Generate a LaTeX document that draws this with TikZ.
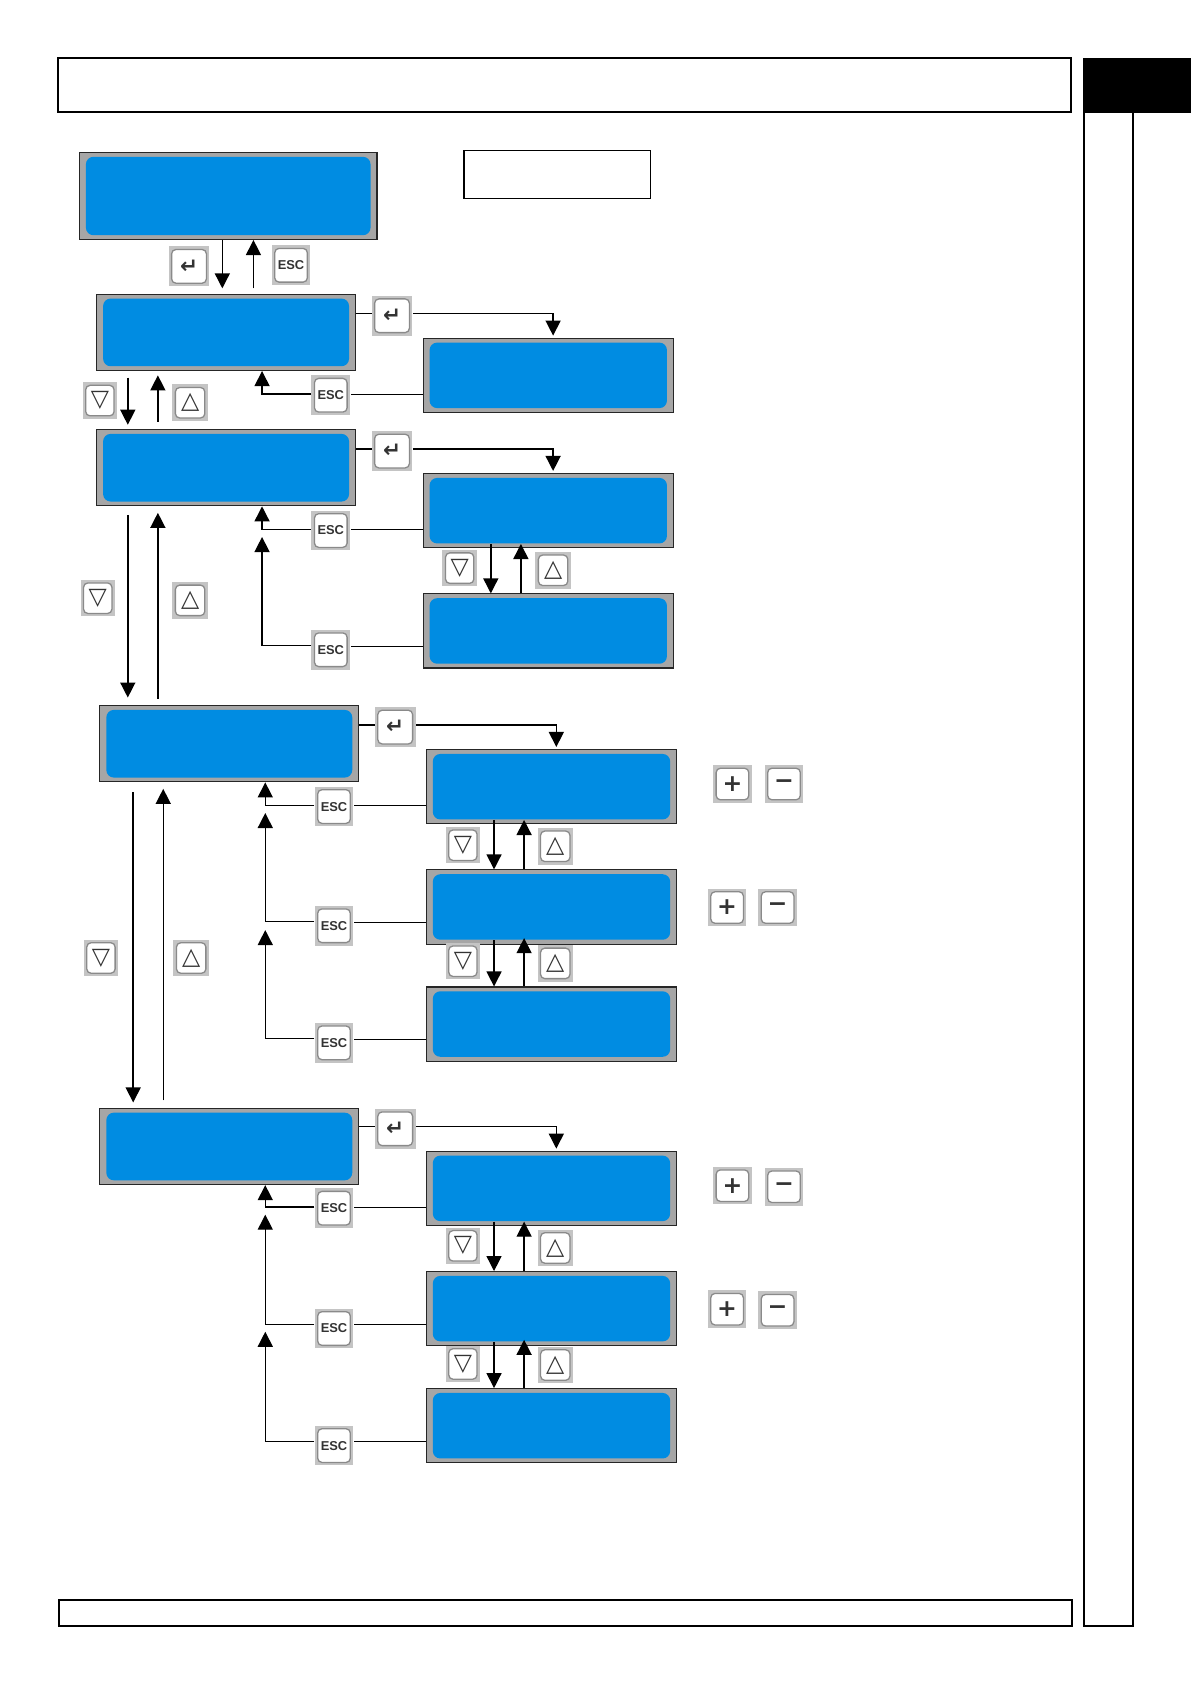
\documentclass[tikz,border=0pt]{standalone}
\usepackage{xcolor}
\usepackage{fontspec}
\usetikzlibrary{arrows.meta}
\newfontfamily\keyfont{Liberation Sans}
\newfontfamily\symfont{DejaVu Sans}
\definecolor{lcdblue}{HTML}{008ce2}
\definecolor{lcdframe}{HTML}{a6a6a6}
\definecolor{keyback}{HTML}{c4c4c4}
\definecolor{keyedge}{HTML}{8a8a8a}
\tikzset{
    lcd/.style={
        draw=black!85, line width=0.5pt, fill=lcdframe, inner sep=0pt,
        path picture={
            \fill[lcdblue, rounded corners=3.5pt]
                ([shift={(3pt,-2pt)}]path picture bounding box.north west) rectangle
                ([shift={(-3pt,2pt)}]path picture bounding box.south east);
        }
    },
    lcdtop/.style={lcd, minimum width=138.5pt, minimum height=40.5pt},
    lcdmain/.style={lcd, minimum width=120.5pt, minimum height=35.5pt},
    lcdsub/.style={lcd, minimum width=116.5pt, minimum height=34.5pt},
    keybtn/.style={
        fill=keyback, inner sep=0pt, minimum width=17pt, minimum height=17pt,
        text=black!80,
        path picture={
            \draw[keyedge, fill=white, line width=0.6pt, rounded corners=2pt]
                ([shift={(1.4pt,-1.4pt)}]path picture bounding box.north west) rectangle
                ([shift={(-1.4pt,1.4pt)}]path picture bounding box.south east);
        }
    },
    enterkey/.style={keybtn, minimum width=19pt, minimum height=18.5pt, font=\symfont\bfseries\fontsize{10}{10}\selectfont, node contents={↵}},
    esckey/.style={keybtn, minimum width=18pt, minimum height=18.5pt, font=\keyfont\bfseries\fontsize{6}{6}\selectfont, node contents={ESC}},
    upkey/.style={keybtn, minimum width=16.5pt, font=\symfont\bfseries\fontsize{11}{11}\selectfont, node contents={△}},
    downkey/.style={keybtn, minimum width=16pt, font=\symfont\bfseries\fontsize{11}{11}\selectfont, node contents={▽}},
    pluskey/.style={keybtn, minimum width=18pt, minimum height=17.5pt, font=\symfont\bfseries\fontsize{11}{11}\selectfont, node contents={+}},
    minuskey/.style={keybtn, minimum width=18pt, minimum height=17.5pt, font=\symfont\bfseries\fontsize{11}{11}\selectfont, node contents={−}},
    arr/.style={line width=0.65pt, -{Triangle[length=7pt,width=7pt]}},
    wire/.style={line width=0.55pt},
    pageline/.style={draw=black, line width=1pt},
}
\begin{document}
\begin{tikzpicture}[x=0.5pt,y=-0.5pt]
        \useasboundingbox (0,0) rectangle (1109,1568);

        % Page frame
        \node[pageline, minimum width=471.5pt, minimum height=25pt, inner sep=0pt] (header) at (525.5,79) {};
        \node[pageline, minimum width=471.5pt, minimum height=12pt, inner sep=0pt] (footer) at (526.5,1502) {};
        \node[fill=black, minimum width=50.5pt, minimum height=25.5pt, inner sep=0pt] (tab) at (1058.5,79.5) {};
        \draw[line width=1pt] (1009,105) -- (1009,1514) -- (1055,1514) -- (1055,105);
        \node[draw=black, line width=0.6pt, minimum width=87pt, minimum height=22.5pt, inner sep=0pt] (title) at (519,162.5) {};

        % Displays
        \node[lcdtop] (topmenu) at (212.5,182.5) {};
        \node[lcdmain] (menuA) at (210.5,309.5) {};
        \node[lcdmain] (menuB) at (210.5,435.5) {};
        \node[lcdmain] (menuC) at (213.5,692.5) {};
        \node[lcdmain] (menuD) at (213.5,1067.5) {};
        \node[lcdsub] (subA) at (510.5,349.5) {};
        \node[lcdsub] (subBa) at (510.5,475.5) {};
        \node[lcdsub] (subBb) at (510.5,587.5) {};
        \node[lcdsub] (subCa) at (513.5,732.5) {};
        \node[lcdsub] (subCb) at (513.5,844.5) {};
        \node[lcdsub] (subCc) at (513.5,953.5) {};
        \node[lcdsub] (subDa) at (513.5,1106.5) {};
        \node[lcdsub] (subDb) at (513.5,1218.5) {};
        \node[lcdsub] (subDc) at (513.5,1327.5) {};

        % Keys
        \node (enterT) at (176,248) [enterkey];
        \node (escT) at (271,247) [esckey];
        \node (enterA) at (365,294) [enterkey];
        \node (escA) at (308,368) [esckey];
        \node (downA) at (93,373) [downkey];
        \node (upA) at (177,375) [upkey];
        \node (enterB) at (365,420) [enterkey];
        \node (escBa) at (308,494) [esckey];
        \node (escBb) at (308,605) [esckey];
        \node (downB) at (91,557) [downkey];
        \node (upB) at (177,559) [upkey];
        \node (downBa) at (428,529) [downkey];
        \node (upBa) at (515,531) [upkey];
        \node (enterC) at (368,677) [enterkey];
        \node (escCa) at (311,751) [esckey];
        \node (escCb) at (311,862) [esckey];
        \node (escCc) at (311,971) [esckey];
        \node (downC) at (94,892) [downkey];
        \node (upC) at (178,892) [upkey];
        \node (downCa) at (431,787) [downkey];
        \node (upCa) at (517,788) [upkey];
        \node (downCb) at (431,895) [downkey];
        \node (upCb) at (517,897) [upkey];
        \node (plusCa) at (682,730) [pluskey];
        \node (minusCa) at (730,730) [minuskey];
        \node (plusCb) at (677,845) [pluskey];
        \node (minusCb) at (724,845) [minuskey];
        \node (enterD) at (368,1051) [enterkey];
        \node (escDa) at (311,1125) [esckey];
        \node (escDb) at (311,1237) [esckey];
        \node (escDc) at (311,1346) [esckey];
        \node (downDa) at (431,1160) [downkey];
        \node (upDa) at (517,1162) [upkey];
        \node (downDb) at (431,1270) [downkey];
        \node (upDb) at (517,1271) [upkey];
        \node (plusDa) at (682,1104) [pluskey];
        \node (minusDa) at (730,1105) [minuskey];
        \node (plusDb) at (677,1219) [pluskey];
        \node (minusDb) at (724,1220) [minuskey];

        % Free ends of the lower return arrows
        \coordinate (joinB) at (244,500);
        \coordinate (joinCa) at (247,757);
        \coordinate (joinCb) at (247,866);
        \coordinate (joinDa) at (247,1131);
        \coordinate (joinDb) at (247,1240);

        % Main column
        \draw[arr, shorten >=2.5pt] (207,0 |- topmenu.south) -- (207,0 |- menuA.north);
        \draw[arr, shorten <=2.5pt] (236,0 |- menuA.north) -- (236,0 |- topmenu.south);
        \draw[arr, shorten <=3pt, shorten >=2pt] (119,0 |- menuA.south) -- (119,0 |- menuB.north);
        \draw[arr, shorten <=3.5pt, shorten >=2pt] (147,0 |- menuB.north) -- (147,0 |- menuA.south);
        \draw[arr, shorten <=4pt, shorten >=3.5pt] (119,0 |- menuB.south) -- (119,0 |- menuC.north);
        \draw[arr, shorten <=3pt, shorten >=3pt] (147,0 |- menuC.north) -- (147,0 |- menuB.south);
        \draw[arr, shorten <=4.5pt, shorten >=2.5pt] (124,0 |- menuC.south) -- (124,0 |- menuD.north);
        \draw[arr, shorten <=3.5pt, shorten >=3pt] (152,0 |- menuD.north) -- (152,0 |- menuC.south);

        % Enter branches
        \draw[wire] (menuA.east |- enterA.west) ++(0,-2) -- ++(15,0);
        \draw[arr, shorten >=1pt] (enterA.east |- 0,292) -| (515,0 |- subA.north);
        \draw[wire] (menuB.east |- enterB.west) ++(0,-2) -- ++(15,0);
        \draw[arr, shorten >=1pt] (enterB.east |- 0,418) -| (515,0 |- subBa.north);
        \draw[wire] (menuC.east |- enterC.west) ++(0,-2) -- ++(15,0);
        \draw[arr, shorten >=1pt] (enterC.east |- 0,675) -| (518,0 |- subCa.north);
        \draw[wire] (menuD.east |- enterD.west) ++(0,-2) -- ++(15,0);
        \draw[arr, shorten >=1pt] (enterD.east |- 0,1049) -| (518,0 |- subDa.north);

        % Esc returns
        \draw[wire] (subA.west |- 0,367) -- (escA.east |- 0,367);
        \draw[arr] (escA.west |- 0,367) -| (244,0 |- menuA.south);
        \draw[wire] (subBa.west |- 0,493) -- (escBa.east |- 0,493);
        \draw[arr] (escBa.west |- 0,493) -| (244,0 |- menuB.south);
        \draw[wire] (subBb.west |- 0,602) -- (escBb.east |- 0,602);
        \draw[arr] (escBb.west |- 0,601) -| (joinB);
        \draw[wire] (subCa.west |- 0,750) -- (escCa.east |- 0,750);
        \draw[arr] (escCa.west |- 0,750) -| (247,0 |- menuC.south);
        \draw[wire] (subCb.west |- 0,859) -- (escCb.east |- 0,859);
        \draw[arr] (escCb.west |- 0,858) -| (joinCa);
        \draw[wire] (subCc.west |- 0,968) -- (escCc.east |- 0,968);
        \draw[arr] (escCc.west |- 0,967) -| (joinCb);
        \draw[wire] (subDa.west |- 0,1124) -- (escDa.east |- 0,1124);
        \draw[arr] (escDa.west |- 0,1124) -| (247,0 |- menuD.south);
        \draw[wire] (subDb.west |- 0,1233) -- (escDb.east |- 0,1233);
        \draw[arr] (escDb.west |- 0,1233) -| (joinDa);
        \draw[wire] (subDc.west |- 0,1342) -- (escDc.east |- 0,1342);
        \draw[arr] (escDc.west |- 0,1342) -| (joinDb);

        % Sub menu steps
        \draw[arr, shorten <=-2pt] (457,0 |- subBa.south) -- (457,0 |- subBb.north);
        \draw[arr, shorten >=-2pt] (485,0 |- subBb.north) -- (485,0 |- subBa.south);
        \draw[arr, shorten <=-2pt] (460,0 |- subCa.south) -- (460,0 |- subCb.north);
        \draw[arr, shorten >=-2pt] (488,0 |- subCb.north) -- (488,0 |- subCa.south);
        \draw[arr, shorten <=-2pt] (460,0 |- subCb.south) -- (460,0 |- subCc.north);
        \draw[arr, shorten >=-3pt] (488,0 |- subCc.north) -- (488,0 |- subCb.south);
        \draw[arr, shorten <=-2pt] (460,0 |- subDa.south) -- (460,0 |- subDb.north);
        \draw[arr, shorten >=-2pt] (488,0 |- subDb.north) -- (488,0 |- subDa.south);
        \draw[arr, shorten <=-2pt] (460,0 |- subDb.south) -- (460,0 |- subDc.north);
        \draw[arr, shorten >=-3pt] (488,0 |- subDc.north) -- (488,0 |- subDb.south);
\end{tikzpicture}
\end{document}
